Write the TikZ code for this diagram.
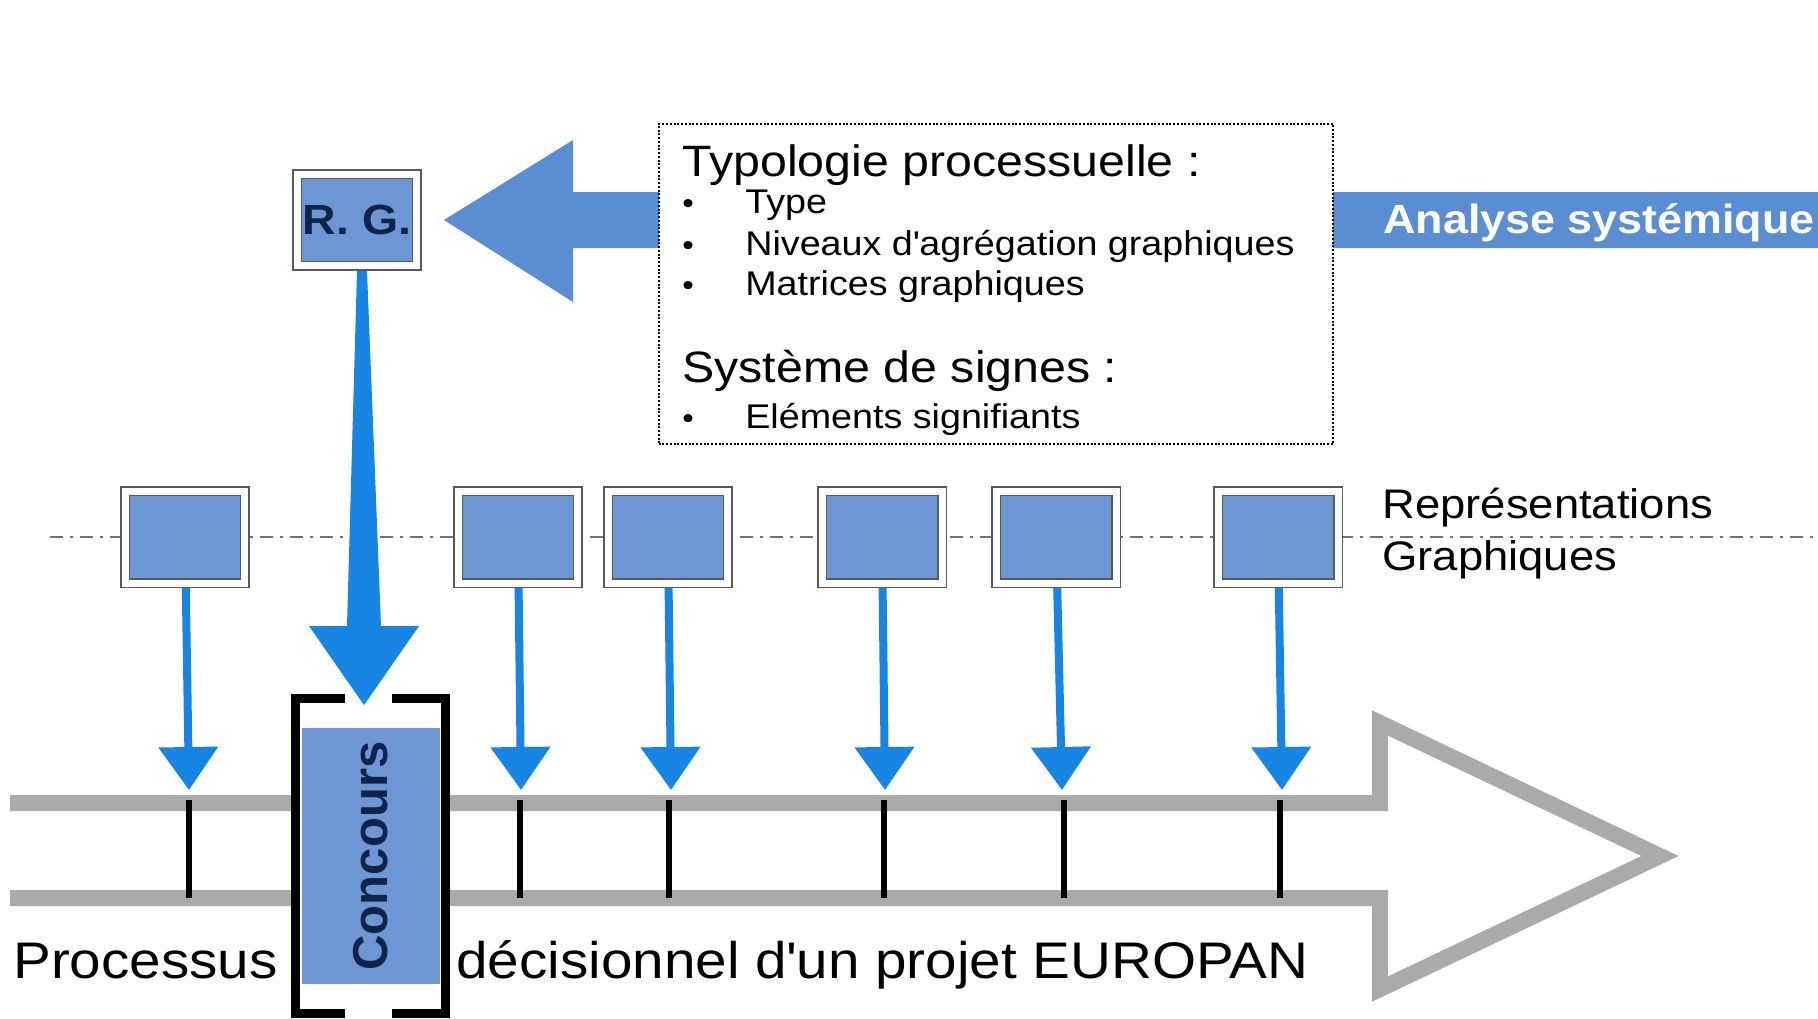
\documentclass[tikz,border=0pt]{standalone}
\usepackage{fontspec}
\setmainfont{Liberation Sans}[FakeStretch=1.1]
\newfontfamily\plainsans{Liberation Sans}
\usetikzlibrary{arrows.meta,calc}

\definecolor{boxblue}{RGB}{108,150,212}
\definecolor{bandblue}{RGB}{91,141,211}
\definecolor{arrowblue}{RGB}{24,132,228}
\definecolor{railgrey}{RGB}{170,170,170}
\definecolor{navy}{RGB}{15,35,75}

\newcommand{\itm}{\makebox[1.26cm][l]{\fontsize{17}{17}\selectfont\textbullet}}

\tikzset{
repbox/.style={rectangle,draw=black!65,line width=0.03cm,double=white,double distance=0.14cm,fill=boxblue,minimum width=2.4cm,minimum height=1.84cm,inner sep=0pt,outer sep=0.1cm},
typobox/.style={rectangle,draw,densely dotted,line width=0.04cm,fill=white,minimum width=13.5cm,minimum height=6.4cm},
heading/.style={anchor=base west,inner sep=0pt,font=\fontsize{25}{30}\selectfont},
item/.style={anchor=base west,inner sep=0pt,font=\fontsize{19.5}{23}\selectfont},
bottomtext/.style={anchor=base west,inner sep=0pt,font=\fontsize{29.3}{35}\selectfont},
smallarrow/.style={-{Triangle[width=1.16cm,length=0.86cm]},draw=arrowblue,line width=0.16cm},
repline/.style={draw=black!55,line width=0.04cm,dash pattern=on 0.26cm off 0.14cm on 0.06cm off 0.14cm},
rail/.style={draw=railgrey,line width=0.32cm,line join=miter},
tick/.style={line width=0.12cm},
bracket/.style={line width=0.18cm,line join=miter}
}

\begin{document}
\begin{tikzpicture}[x=0.02cm,y=-0.02cm]
\fill[white] (0,0) rectangle (1818,1018);
\useasboundingbox (0,0) rectangle (1818,1018);

\draw[repline] (50,537) -- (1818,537);

\draw[rail] (10,803) -- (1380,803) -- (1380,723) -- (1660,856) -- (1380,989) -- (1380,898) -- (10,898);
\coordinate (t1) at (189,800);
\coordinate (t2) at (520,800);
\coordinate (t3) at (669,800);
\coordinate (t4) at (884,800);
\coordinate (t5) at (1064,800);
\coordinate (t6) at (1280,800);
\draw[tick] (t1) -- ++(0,98);
\draw[tick] (t2) -- ++(0,98);
\draw[tick] (t3) -- ++(0,98);
\draw[tick] (t4) -- ++(0,98);
\draw[tick] (t5) -- ++(0,98);
\draw[tick] (t6) -- ++(0,98);

\fill[white] (295,698) rectangle (445,1013);
\node[rectangle,fill=boxblue,rotate=90,minimum width=5.14cm,minimum height=2.76cm,inner sep=0pt,text=navy,font=\plainsans\bfseries\fontsize{27.9}{32}\selectfont] (concours) at (371,856) {Concours};
\draw[bracket] (345,698) -- (295,698) -- (295,1013) -- (345,1013);
\draw[bracket] (392,698) -- (445,698) -- (445,1013) -- (392,1013);

\node[bottomtext] (processus) at (13,978) {Processus};
\node[bottomtext] (decision) at (456,978) {décisionnel d\textquotesingle un projet EUROPAN};

\node[repbox,text=navy,font=\bfseries\fontsize{24}{28}\selectfont] (rg) at (357,220) {R. G.};

\fill[bandblue] (1818,192) -- (573,192) -- (573,140) -- ($(rg.east)+(22,0)$) -- (573,302) -- (573,248) -- (1818,248) -- cycle;
\node[anchor=base west,inner sep=0pt,text=white,font=\bfseries\fontsize{23.2}{28}\selectfont] (analyse) at (1383,233) {Analyse systémique};

\node[typobox] (typo) at (996,284) {};
\node[heading] (typologie) at (682,176) {Typologie processuelle :};
\node[item] (type) at (682,213) {\itm Type};
\node[item] (niveaux) at (682,255) {\itm Niveaux d\textquotesingle agrégation graphiques};
\node[item] (matrices) at (682,295) {\itm Matrices graphiques};
\node[heading] (systeme) at (682,382) {Système de signes :};
\node[item] (elements) at (682,428) {\itm Eléments signifiants};

\node[repbox] (rep1) at (185,537) {};
\node[repbox] (rep2) at (518,537) {};
\node[repbox] (rep3) at (668,537) {};
\node[repbox] (rep4) at (882,537) {};
\node[repbox] (rep5) at (1056,537) {};
\node[repbox] (rep6) at (1278,537) {};
\node[anchor=west,inner sep=0pt,align=left,font=\fontsize{23.5}{29.6}\selectfont] (replabel) at (1382,534) {Représentations\\Graphiques};

\coordinate (a1) at (189,790);
\coordinate (a2) at (521,790);
\coordinate (a3) at (671,790);
\coordinate (a4) at (885,790);
\coordinate (a5) at (1062,790);
\coordinate (a6) at (1282,790);
\path (rep1) edge[smallarrow] (a1)
(rep2) edge[smallarrow] (a2)
(rep3) edge[smallarrow] (a3)
(rep4) edge[smallarrow] (a4)
(rep5) edge[smallarrow] (a5)
(rep6) edge[smallarrow] (a6);

\coordinate (rgtip) at (364,705);
\fill[arrowblue] ($(rg.south)+(0,0)$) -- ($(rgtip)+(-17,-79)$) -- ($(rgtip)+(-55,-79)$) -- (rgtip) -- ($(rgtip)+(55,-79)$) -- ($(rgtip)+(17,-79)$) -- ($(rg.south)+(10,0)$) -- cycle;
\end{tikzpicture}
\end{document}
